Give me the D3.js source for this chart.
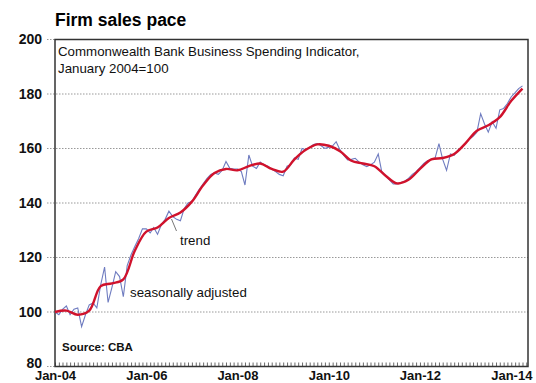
<!DOCTYPE html>
<html>
<head>
<meta charset="utf-8">
<script src="https://cdn.jsdelivr.net/npm/d3@7"></script>
<style>
  body { margin: 0; background: #fff; }
  svg { display: block; font-family: "Liberation Sans", Arial, sans-serif; }
</style>
</head>
<body>
<div id="chart"></div>
<script>
// Seasonally adjusted, monthly from Jan-04
const saStart = "2004-01";
const saValues = [
  100, 99, 101, 102.2, 99, 101, 101.5, 94.6, 99, 102.6, 103.3, 101.5,
  110, 116.5, 103.5, 109, 114.8, 113, 105.6, 117, 121, 124, 127, 130.5,
  130.5, 129, 131, 128.5, 132, 134, 137, 135, 134, 133.5, 138, 140,
  140.5, 143, 145, 147, 149, 150.5, 151, 150.5, 152, 155.2, 152.7, 152.5,
  152.5, 151.5, 146.6, 157.6, 153.5, 152.7, 155, 154, 153.5, 152.5, 151.5, 150.5,
  150, 153.5, 154, 156.5, 156, 160, 159.5, 160.5, 161.5, 161.8, 161, 160,
  160.5, 161, 162.5, 159.5, 157.5, 155.8, 156, 156.4, 155, 154, 153.3, 154,
  155, 158, 151.5, 150, 148.5, 147, 147, 147.5, 148, 149, 150.5, 151.5,
  153, 154.5, 155.5, 156, 156.5, 161.8, 156, 152, 158, 157.5, 159.5, 160.5,
  162, 163.5, 164.5, 166, 172.8, 169, 166, 169.8, 167.4, 174.2, 174.7, 176.5,
  179, 180.5, 182, 183
];

// Trend, quarterly points
const trendDates = [
  "2004-01", "2004-04", "2004-07", "2004-10", "2005-01", "2005-04", "2005-07", "2005-10",
  "2006-01", "2006-04", "2006-07", "2006-10", "2007-01", "2007-04", "2007-07", "2007-10",
  "2008-01", "2008-04", "2008-07", "2008-10", "2009-01", "2009-04", "2009-07", "2009-10",
  "2010-01", "2010-04", "2010-07", "2010-10", "2011-01", "2011-04", "2011-07", "2011-10",
  "2012-01", "2012-04", "2012-07", "2012-10", "2013-01", "2013-04", "2013-07", "2013-10",
  "2014-01", "2014-04"
];
const trendValues = [
  100, 100.5, 99, 100.5, 109.5, 110.5, 112, 122.5,
  129.5, 131, 134.5, 136.5, 140.5, 146.5, 151, 152.5,
  152, 153.5, 154.5, 152.5, 151.5, 156, 159.5, 161.5,
  161, 159, 155.5, 154.5, 153.5, 150, 147.2, 148.5,
  152.5, 156, 156.5, 158, 162, 166.5, 168.5, 171.5,
  177.5, 182
];

const yTicks = [80, 100, 120, 140, 160, 180, 200];
const xTickLabels = ["Jan-04", "Jan-06", "Jan-08", "Jan-10", "Jan-12", "Jan-14"];

const W = 536, H = 383;
const margin = { left: 55, right: 8, top: 39.5, bottom: 16.5 };
const parseMonth = d3.timeParse("%Y-%m");
const parseLabel = d3.timeParse("%b-%y");

const saDates = d3.timeMonth.range(parseMonth(saStart), d3.timeMonth.offset(parseMonth(saStart), saValues.length));
const sa = saValues.map((v, i) => ({ date: saDates[i], value: v }));
const trend = trendValues.map((v, i) => ({ date: parseMonth(trendDates[i]), value: v }));

const x = d3.scaleTime()
  .domain([new Date(2004, 0, 1), new Date(2014, 4, 15)])
  .range([margin.left, W - margin.right]);
const y = d3.scaleLinear()
  .domain([80, 200])
  .range([H - margin.bottom, margin.top]);

const svg = d3.select("#chart").append("svg")
  .attr("width", W)
  .attr("height", H);

// title
svg.append("text")
  .attr("x", 55).attr("y", 26)
  .attr("font-size", 17.5).attr("font-weight", "bold")
  .text("Firm sales pace");

// gridlines
svg.append("g")
  .selectAll("line")
  .data(yTicks.filter(t => t > 80 && t < 200))
  .join("line")
  .attr("x1", 47).attr("x2", W - margin.right)
  .attr("y1", d => y(d)).attr("y2", d => y(d))
  .attr("stroke", "#999").attr("stroke-width", 1)
  .attr("stroke-dasharray", "1.5,1.5");

// small stubs left of frame at 80 and 200
svg.append("g")
  .selectAll("line")
  .data([80, 200])
  .join("line")
  .attr("x1", 47).attr("x2", margin.left)
  .attr("y1", d => y(d)).attr("y2", d => y(d))
  .attr("stroke", "#999").attr("stroke-dasharray", "1.5,1.5");

// y labels
const yAxis = svg.append("g")
  .attr("transform", `translate(${margin.left},0)`)
  .call(d3.axisLeft(y).tickValues(yTicks).tickSize(0).tickPadding(13));
yAxis.select(".domain").remove();
yAxis.selectAll("text")
  .attr("font-size", 14).attr("font-weight", "bold")
  .attr("font-family", "Liberation Sans, Arial, sans-serif")
  .attr("fill", "#111");
// lift the bottom label a touch so it clears the x labels
yAxis.selectAll(".tick").filter(d => d === 80).select("text").attr("dy", "0.1em");

// monthly minor ticks along bottom (pointing up)
const minor = svg.append("g")
  .attr("transform", `translate(0,${H - margin.bottom})`)
  .call(d3.axisTop(x).ticks(d3.timeMonth.every(1)).tickSize(4).tickFormat(""));
minor.select(".domain").remove();
minor.selectAll("line").attr("stroke", "#444").attr("stroke-width", 0.8);

// x labels
const xAxis = svg.append("g")
  .attr("transform", `translate(0,${H - margin.bottom})`)
  .call(d3.axisBottom(x)
    .tickValues(xTickLabels.map(parseLabel))
    .tickSize(0).tickPadding(4)
    .tickFormat(d3.timeFormat("%b-%y")));
xAxis.select(".domain").remove();
xAxis.selectAll("text")
  .attr("font-size", 13).attr("font-weight", "bold")
  .attr("font-family", "Liberation Sans, Arial, sans-serif")
  .attr("fill", "#111");

// frame
svg.append("rect")
  .attr("x", margin.left).attr("y", margin.top)
  .attr("width", W - margin.right - margin.left)
  .attr("height", H - margin.bottom - margin.top)
  .attr("fill", "none").attr("stroke", "#333").attr("stroke-width", 1.5);

// series
const line = d3.line().x(d => x(d.date)).y(d => y(d.value));
svg.append("path")
  .datum(sa)
  .attr("fill", "none").attr("stroke", "#6f7cc0").attr("stroke-width", 1.1)
  .attr("d", line);

svg.append("path")
  .datum(trend)
  .attr("fill", "none").attr("stroke", "#d0122c").attr("stroke-width", 2.4)
  .attr("stroke-linejoin", "round")
  .attr("d", line.curve(d3.curveCatmullRom.alpha(0.5)));

// annotations
const note = svg.append("text")
  .attr("font-size", 13.3).attr("fill", "#111");
note.append("tspan").attr("x", 58).attr("y", 56).text("Commonwealth Bank Business Spending Indicator,");
note.append("tspan").attr("x", 58).attr("y", 72.5).text("January 2004=100");

svg.append("line")
  .attr("x1", 171.5).attr("y1", 219)
  .attr("x2", 176.5).attr("y2", 231)
  .attr("stroke", "#777").attr("stroke-width", 1);

svg.append("text")
  .attr("x", 180).attr("y", 245)
  .attr("font-size", 13.3).attr("fill", "#111")
  .text("trend");

svg.append("text")
  .attr("x", 130).attr("y", 297)
  .attr("font-size", 13.3).attr("fill", "#111")
  .text("seasonally adjusted");

svg.append("text")
  .attr("x", 62).attr("y", 351)
  .attr("font-size", 11.5).attr("font-weight", "bold").attr("fill", "#111")
  .text("Source: CBA");
</script>
</body>
</html>
